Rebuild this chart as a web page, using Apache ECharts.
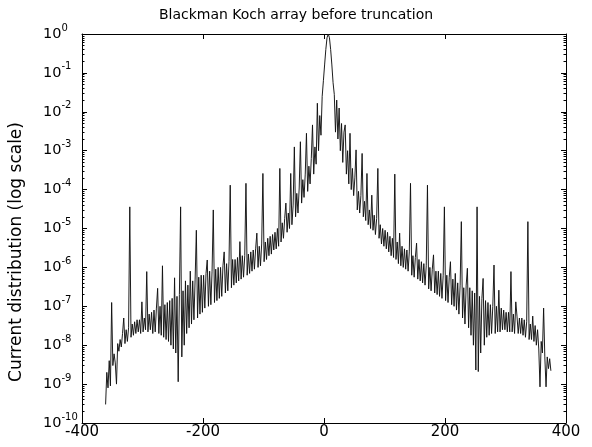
<!DOCTYPE html>
<html>
<head>
<meta charset="utf-8">
<script src="https://cdn.jsdelivr.net/npm/echarts@6/dist/echarts.min.js"></script>
<style>
html,body{margin:0;padding:0;background:#fff;}
#chart{width:592px;height:447px;}
</style>
</head>
<body>
<div id="chart"></div>
<script>
// Sample positions: element positions start at X0 and advance by DX (odd integers -361..375)
const X0 = -361;
const DX = 2;

// Left wing of the current distribution (positions -361 .. 5)
const leftWing = [
  3e-10, 2e-9, 8e-10, 4e-9, 9e-10, 1.25e-7, 3e-9, 6e-9, 3.5e-9, 1e-9,
  1.1e-8, 7e-9, 1.4e-8, 9e-9, 2e-8, 5e-8, 1.1e-8, 2.5e-8, 1.25e-8, 2.8e-8,
  3.6e-5, 1.6e-8, 3.5e-8, 1.8e-8, 4e-8, 2e-8, 4.5e-8, 2.2e-8, 4.5e-8, 2e-8,
  1.3e-7, 2.2e-8, 5e-8, 2.5e-8, 7.8e-7, 2.2e-8, 6.3e-8, 2.5e-8, 7e-8, 2e-8,
  8e-8, 2.2e-8, 9e-8, 2.9e-7, 2e-8, 1e-7, 1.8e-8, 1.1e-6, 1.6e-8, 1.1e-7,
  1.4e-8, 1.25e-7, 1.25e-8, 1.4e-7, 1e-8, 1.6e-7, 8e-9, 5.4e-7, 6.3e-9, 1.8e-7,
  1.15e-9, 2e-7, 3.6e-5, 5e-9, 2.5e-7, 1e-8, 4.5e-7, 2e-8, 3.5e-7, 2.8e-8,
  8e-7, 3.5e-8, 4.5e-7, 4.5e-8, 5e-7, 9e-6, 5e-8, 5.6e-7, 6.3e-8, 6.3e-7,
  7e-8, 6.3e-7, 9e-8, 7e-7, 1.55e-6, 1e-7, 8e-7, 1.1e-7, 8e-7, 3e-5,
  1.25e-7, 9e-7, 1.4e-7, 1e-6, 1.6e-7, 1e-6, 1.8e-7, 1.1e-6, 2.5e-6, 2.2e-7,
  1.25e-6, 2.5e-7, 1.4e-6, 1.3e-4, 3e-7, 1.6e-6, 3.5e-7, 1.6e-6, 4e-7, 1.8e-6,
  4.5e-7, 4.6e-6, 5e-7, 2e-6, 5.6e-7, 2e-6, 1.45e-4, 6.3e-7, 2.2e-6, 7e-7,
  2.5e-6, 8e-7, 2.8e-6, 9e-7, 3e-6, 7.6e-6, 1e-6, 3.5e-6, 1.1e-6, 4e-6,
  2.6e-4, 1.4e-6, 4.5e-6, 1.6e-6, 5.6e-6, 2e-6, 6.3e-6, 2.2e-6, 7e-6, 2.8e-6,
  8e-6, 3e-6, 1e-5, 3.5e-6, 3.5e-4, 4.5e-6, 1.4e-5, 5.6e-6, 1.8e-5, 4.5e-5,
  8e-6, 2.5e-5, 1e-5, 2.6e-4, 1.25e-5, 4e-5, 1.25e-3, 2e-5, 8e-5, 2.5e-5,
  1.1e-4, 1.7e-3, 4.5e-5, 1.8e-4, 6.3e-5, 2.5e-4, 2.8e-3, 9e-5, 4e-4, 1.4e-4,
  6.3e-4, 4.6e-3, 2.5e-4, 1.25e-3, 4.5e-4, 1.66e-2, 1e-3, 8e-3, 2.5e-3, 2.5e-2,
  6.3e-2, 0.16, 0.4, 0.8
];

// Main lobe maximum (position 7)
const centerPeak = [1.0];

// Right wing of the current distribution (positions 9 .. 375)
const rightWing = [
  0.8, 0.4, 0.16, 5.6e-2,
  2.8e-2, 3e-3, 2e-2, 2e-3, 1.25e-2, 1e-3, 5e-3, 5e-4, 3e-3, 4.6e-3,
  2.5e-4, 1e-3, 1.4e-4, 2.8e-3, 1e-4, 3.5e-4, 7e-5, 2e-4, 1.05e-3, 3e-5,
  9e-5, 2.5e-5, 7e-5, 8.5e-4, 2e-5, 5e-5, 1.6e-5, 2.6e-4, 1.25e-5, 3e-5,
  1e-5, 7.2e-5, 9e-6, 2.2e-5, 7e-6, 1.8e-5, 3.5e-4, 5.6e-6, 1.25e-5, 4e-6,
  1e-5, 3.5e-6, 9e-6, 3e-6, 8e-6, 2.5e-6, 6.3e-6, 2e-6, 5.6e-6, 1.8e-6,
  2.5e-4, 1.6e-6, 4.5e-6, 1.25e-6, 7.6e-6, 1.1e-6, 3.5e-6, 1e-6, 3e-6, 9e-7,
  2.8e-6, 8e-7, 2.5e-6, 1.45e-4, 6.3e-7, 2e-6, 5.6e-7, 1.8e-6, 4.2e-6, 5e-7,
  1.6e-6, 4.5e-7, 1.4e-6, 4e-7, 1.25e-6, 3.5e-7, 1.1e-6, 1.3e-4, 2.8e-7, 1e-6,
  2.5e-7, 9e-7, 2.1e-6, 2.2e-7, 8e-7, 2e-7, 8e-7, 1.8e-7, 7e-7, 1.6e-7,
  6.3e-7, 3.6e-5, 1.4e-7, 6.3e-7, 1.25e-7, 5.6e-7, 1.4e-6, 1.1e-7, 5e-7, 1e-7,
  7e-7, 8e-8, 4e-7, 6.3e-8, 3.5e-7, 1.5e-5, 5e-8, 3e-7, 3.5e-8, 3.5e-7,
  9.5e-7, 2.8e-8, 3e-7, 1.8e-8, 2.5e-7, 1e-8, 2.2e-7, 2.3e-9, 3.6e-5, 2.1e-9,
  1.8e-7, 6.3e-9, 1.6e-7, 5.2e-7, 1e-8, 1.4e-7, 1.6e-8, 1.25e-7, 1.8e-8, 1.1e-7,
  2e-8, 1e-7, 1.15e-6, 2e-8, 1e-7, 2.2e-8, 2.6e-7, 2.2e-8, 9e-8, 2.5e-8,
  8e-8, 2.5e-8, 7e-8, 2.2e-8, 7e-8, 2.2e-8, 7.8e-7, 2.2e-8, 6.3e-8, 2e-8,
  1.3e-7, 5.6e-8, 2e-8, 5e-8, 2e-8, 5e-8, 1.8e-8, 4.5e-8, 1.6e-8, 4e-8,
  1.5e-5, 1.4e-8, 3.5e-8, 1.4e-8, 5.6e-8, 1.25e-8, 3.2e-8, 1e-8, 2.5e-8, 8e-9,
  8.5e-10, 1.25e-8, 6.3e-9, 9e-8, 5e-9, 8.5e-10, 5e-9, 2.5e-9, 4.5e-9, 2.2e-9
];

// Axis ticks
const xTicks = [-400, -200, 0, 200, 400];
const yDecades = [1, 1e-1, 1e-2, 1e-3, 1e-4, 1e-5, 1e-6, 1e-7, 1e-8, 1e-9, 1e-10];
const minorMultipliers = [2, 3, 4, 5, 6, 7, 8, 9];

const titleText = 'Blackman Koch array before truncation';
const yName = 'Current distribution (log scale)';

const current = leftWing.concat(centerPeak, rightWing);
const seriesData = current.map((v, i) => [X0 + i * DX, v]);

const yMin = yDecades[yDecades.length - 1];
const yMax = yDecades[0];
const minorTicks = [];
yDecades.slice(1).forEach(d => minorMultipliers.forEach(m => minorTicks.push(m * d)));

const FONT = 'DejaVu Sans';
const chart = echarts.init(document.getElementById('chart'), null, {renderer: 'canvas'});

function expLabel(v) {
  const e = Math.round(Math.log10(v));
  return '{b|10}{s|' + e + '}';
}

const axisLineStyle = {color: '#000', width: 1};

function logAxis(pos, withLabels, ticks, tickLen, showLine) {
  return {
    type: 'log',
    logBase: 10,
    position: pos,
    min: yMin,
    max: yMax,
    axisLine: {show: showLine, onZero: false, lineStyle: axisLineStyle},
    axisTick: {show: true, inside: true, length: tickLen, customValues: ticks, lineStyle: {color: '#000', width: 1}},
    minorTick: {show: false},
    axisLabel: withLabels ? {
      show: true,
      customValues: yDecades,
      align: 'left',
      margin: 39,
      color: '#000',
      fontFamily: FONT,
      formatter: expLabel,
      rich: {
        b: {fontFamily: FONT, fontSize: 14.5, lineHeight: 22, color: '#000'},
        s: {fontFamily: FONT, fontSize: 10, lineHeight: 10, verticalAlign: 'top', color: '#000'}
      }
    } : {show: false},
    splitLine: {show: false}
  };
}

chart.setOption({
  animation: false,
  backgroundColor: '#fff',
  title: {
    text: titleText,
    left: 'center',
    top: 3,
    textStyle: {fontFamily: FONT, fontSize: 14, fontWeight: 'normal', color: '#000'}
  },
  grid: {left: 82, right: 26, top: 34, bottom: 24, containLabel: false},
  xAxis: [
    {
      type: 'value',
      min: xTicks[0],
      max: xTicks[xTicks.length - 1],
      interval: 200,
      axisLine: {show: true, onZero: false, lineStyle: axisLineStyle},
      axisTick: {show: true, inside: true, length: 5, lineStyle: {color: '#000'}},
      axisLabel: {
        show: true, margin: 2, color: '#000', fontFamily: FONT, fontSize: 15,
        formatter: v => String(v)
      },
      splitLine: {show: false}
    },
    {
      type: 'value',
      position: 'top',
      min: xTicks[0],
      max: xTicks[xTicks.length - 1],
      interval: 200,
      axisLine: {show: true, onZero: false, lineStyle: axisLineStyle},
      axisTick: {show: true, inside: true, length: 5, lineStyle: {color: '#000'}},
      axisLabel: {show: false},
      splitLine: {show: false}
    }
  ],
  yAxis: [
    logAxis('left', true, yDecades, 5, true),
    logAxis('right', false, yDecades, 5, true),
    logAxis('left', false, minorTicks, 2.5, false),
    logAxis('right', false, minorTicks, 2.5, false)
  ],
  graphic: [
    {
      type: 'text',
      x: 17,
      y: 252,
      rotation: Math.PI / 2,
      style: {
        text: yName,
        fontFamily: FONT,
        fontSize: 17,
        fill: '#000',
        textAlign: 'center',
        textVerticalAlign: 'middle'
      },
      silent: true
    }
  ],
  series: [
    {
      type: 'line',
      xAxisIndex: 0,
      yAxisIndex: 0,
      data: seriesData,
      showSymbol: false,
      symbol: 'none',
      sampling: null,
      lineStyle: {color: '#111', width: 0.95},
      emphasis: {disabled: true},
      silent: true
    }
  ]
});
</script>
</body>
</html>
